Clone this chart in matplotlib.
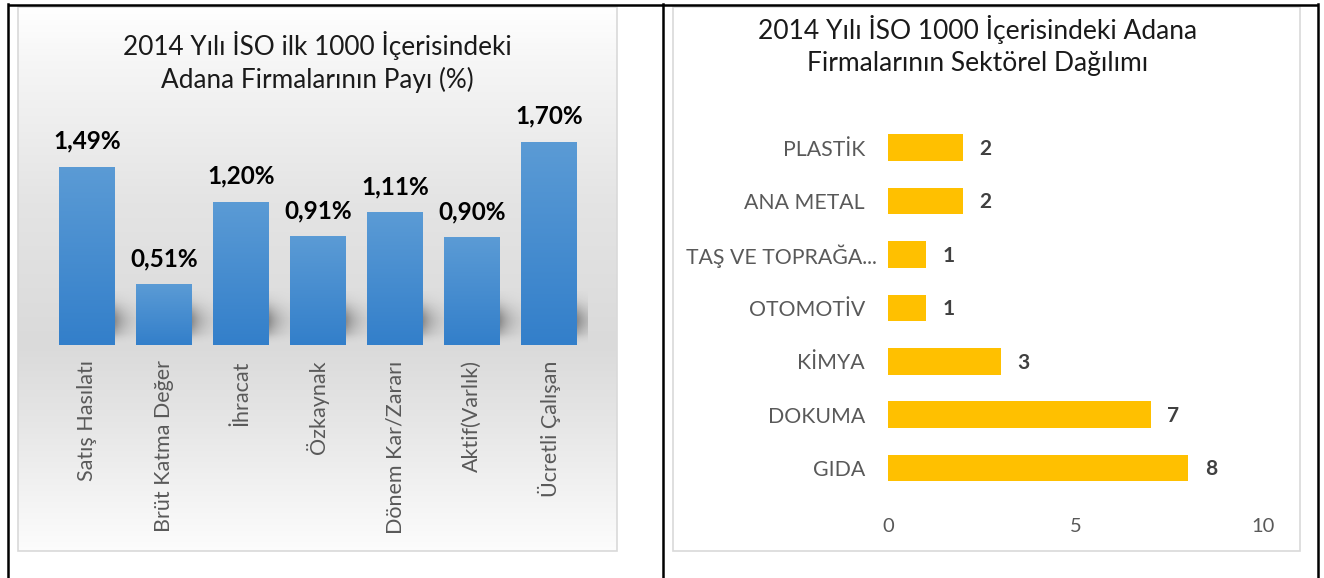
import numpy as np
import matplotlib
matplotlib.use('Agg')
import matplotlib.pyplot as plt
from matplotlib.patches import Rectangle
from matplotlib.transforms import ScaledTranslation

plt.rcParams['font.family'] = ['Lato', 'DejaVu Sans']

# sol grafik: ISO ilk 1000 icindeki pay (%)
pay_kategoriler = ['Satış Hasılatı', 'Brüt Katma Değer', 'İhracat', 'Özkaynak',
                   'Dönem Kar/Zararı', 'Aktif(Varlık)', 'Ücretli Çalışan']
pay_degerler = [1.49, 0.51, 1.20, 0.91, 1.11, 0.90, 1.70]

# sag grafik: sektorel dagilim (asagidan yukari)
sektorler = ['GIDA', 'DOKUMA', 'KİMYA', 'OTOMOTİV', 'TAŞ VE TOPRAĞA...', 'ANA METAL', 'PLASTİK']
firma_sayisi = [8, 7, 3, 1, 1, 2, 2]
x_ticks = [0, 5, 10]

W, H = 1324, 578
fig = plt.figure(figsize=(W / 100, H / 100), dpi=100)
fig.patch.set_facecolor('white')


def px(x0, y0, x1, y1):
    # piksel kutusu -> figure kesirleri
    return [x0 / W, 1 - y1 / H, (x1 - x0) / W, (y1 - y0) / H]


# arka plan, paneller ve tablo cizgileri
bg = fig.add_axes([0, 0, 1, 1], zorder=-1)
bg.set_xlim(0, W)
bg.set_ylim(H, 0)
bg.axis('off')

ys = np.linspace(7, 551, 300)
gray = np.interp(ys, [7, 60, 200, 345, 420, 551], [1.0, 0.965, 0.895, 0.855, 0.90, 0.99])
grad = np.repeat(gray[:, None, None], 3, axis=2)
bg.imshow(grad, extent=[18, 617, 551, 7], aspect='auto', zorder=0)
bg.add_patch(Rectangle((18, 7), 599, 544, fill=False, ec='#d9d9d9', lw=1.2, zorder=1))
bg.add_patch(Rectangle((673, 7), 627, 544, fill=False, ec='#d9d9d9', lw=1.2, zorder=1))
bg.plot([8, 1318], [5, 5], color='black', lw=1.8, zorder=2, solid_capstyle='butt')
for xv in [8, 663, 1318]:
    bg.plot([xv, xv], [4, H], color='black', lw=1.8, zorder=2)
bg.set_xlim(0, W)
bg.set_ylim(H, 0)

# ---- sol grafik ----
ax1 = fig.add_axes(px(48.5, 106, 587.5, 345))
ax1.patch.set_alpha(0)
xpos = np.arange(len(pay_degerler))
bw = 0.727
bars = ax1.bar(xpos, pay_degerler, width=bw, color='#3a84cc', zorder=3)

bar_grad = np.linspace(0, 1, 100)[:, None]
top_c = np.array([0x5b, 0x9b, 0xd5]) / 255
bot_c = np.array([0x33, 0x7f, 0xca]) / 255
bar_img = top_c[None, None, :] * (1 - bar_grad[..., None]) + bot_c[None, None, :] * bar_grad[..., None]

# golge (cubuk sag alti)
sh_x = np.linspace(0, 1, 40)
sh_y = np.linspace(0, 1, 60)
x_prof = np.exp(-2.0 * sh_x) * np.clip(sh_x * 25, 0, 1)
y_prof = np.exp(-((sh_y - 0.45) / 0.3) ** 2) * np.clip(sh_y * 5, 0, 1)
shadow = np.zeros((60, 40, 4))
shadow[..., 3] = (y_prof[:, None] * x_prof[None, :]) * 0.42

for b in bars:
    x0 = b.get_x()
    x1 = x0 + b.get_width()
    h = b.get_height()
    im = ax1.imshow(bar_img, extent=[x0, x1, 0, h], aspect='auto', zorder=4)
    im.set_clip_path(b)
    ax1.imshow(shadow, extent=[x1 - 0.02, x1 + 0.3, 0.0, 0.45], aspect='auto',
               zorder=2, origin='lower')

for xi, v in zip(xpos, pay_degerler):
    ax1.annotate(f'{v:.2f}%'.replace('.', ','), (xi, v), xytext=(0, 13),
                 textcoords='offset points', ha='center', va='baseline',
                 fontsize=17.5, fontweight='bold', color='black')

ax1.set_xlim(-0.5, len(pay_degerler) - 0.5)
ax1.set_ylim(0, 2.0)
ax1.set_xticks(xpos)
ax1.set_xticklabels(pay_kategoriler, rotation=90, fontsize=15.5, color='#595959')
ax1.tick_params(axis='x', length=0, pad=11)
ax1.set_yticks([])
for s in ax1.spines.values():
    s.set_visible(False)

fig.text(317.5 / W, 1 - 45 / H, '2014 Yılı İSO ilk 1000 İçerisindeki',
         ha='center', va='center', fontsize=18.8, color='#1a1a1a')
fig.text(317.5 / W, 1 - 80 / H, 'Adana Firmalarının Payı (%)',
         ha='center', va='center', fontsize=18.8, color='#1a1a1a')

# ---- sag grafik ----
ax2 = fig.add_axes(px(888, 121, 1263, 494.7))
ax2.patch.set_alpha(0)
ypos = np.arange(len(firma_sayisi))
ax2.barh(ypos, firma_sayisi, height=0.5, color='#ffc000', zorder=3)
for yi, v in zip(ypos, firma_sayisi):
    ax2.annotate(str(v), (v, yi), xytext=(12, -1), textcoords='offset points',
                 ha='left', va='center', fontsize=15, fontweight='bold', color='#404040')
ax2.set_xlim(0, 10)
ax2.set_ylim(-0.5, len(firma_sayisi) - 0.5)
ax2.set_yticks(ypos)
ax2.set_yticklabels(sektorler, fontsize=15.3, color='#595959')
ax2.set_xticks(x_ticks)
ax2.set_xticklabels([str(t) for t in x_ticks], fontsize=14.5, color='#595959')
ax2.tick_params(axis='y', length=0, pad=16.5)
ax2.tick_params(axis='x', length=0, pad=17)
for s in ax2.spines.values():
    s.set_visible(False)
# kisaltilmis etiket cubuga daha yakin
uzun = ax2.get_yticklabels()[4]
uzun.set_transform(uzun.get_transform() + ScaledTranslation(12 / 100, 0, fig.dpi_scale_trans))

fig.text(977.5 / W, 1 - 29 / H, '2014 Yılı İSO 1000 İçerisindeki Adana',
         ha='center', va='center', fontsize=19, color='#1a1a1a')
fig.text(977.5 / W, 1 - 64 / H, 'Firmalarının Sektörel Dağılımı',
         ha='center', va='center', fontsize=19, color='#1a1a1a')

fig.savefig('out.png', dpi=100)
